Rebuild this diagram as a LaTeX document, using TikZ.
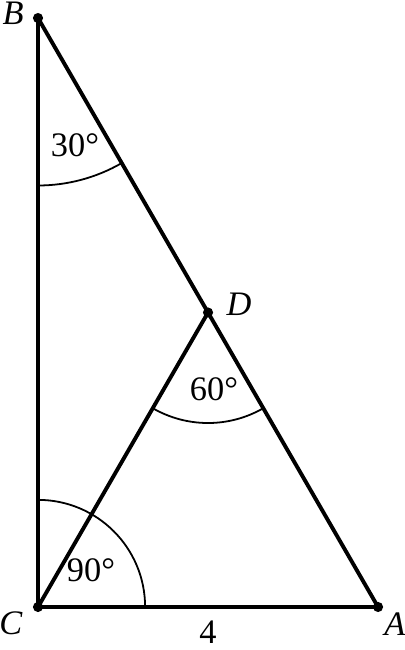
\documentclass[tikz,border=0pt]{standalone}
\usepackage{fontspec}
\setmainfont{Liberation Serif}
\begin{document}
\begin{tikzpicture}[
       line width=1.3pt,
       font=\fontsize{11.5}{13}\selectfont,
       every node/.style={inner sep=1pt},
       punkt/.style={
         circle,
         fill=black,
         inner sep=0pt,
         minimum size=3.4pt
       },
       winkel/.style={
         line width=0.6pt
       }
     ]
       \useasboundingbox (-0.447,-0.506) rectangle (4.306,7.14);

       \node (C) at (0,0) [punkt]{};
       \node (A) at (4,0) [punkt]{};
       \node (B) at (0,6.928) [punkt]{};
       \node (D) at (2,3.464) [punkt]{};

       \node (lB) at (-0.294,6.988) {\textit{B}};
       \node (lC) at (-0.318,-0.188) {\textit{C}};
       \node (lA) at (4.2,-0.2) {\textit{A}};
       \node (lD) at (2.365,3.565) {\textit{D}};
       \node (l4) at (2.0,-0.3) {4};

       \draw (C.center) -- (A.center);
       \draw (C.center) -- (B.center);
       \draw (B.center) -- (A.center);
       \draw (C.center) -- (D.center);

       \draw[winkel] (B.center) ++(-90:1.97) arc (-90:-60:1.97);
       \draw[winkel] (D.center) ++(240:1.3) arc (240:300:1.3);
       \draw[winkel] (C.center) ++(0:1.26) arc (0:90:1.26);

       \node (w30) at (0.435,5.435) {30°};
       \node (w60) at (2.07,2.565) {60°};
       \node (w90) at (0.624,0.435) {90°};

\end{tikzpicture}
\end{document}
